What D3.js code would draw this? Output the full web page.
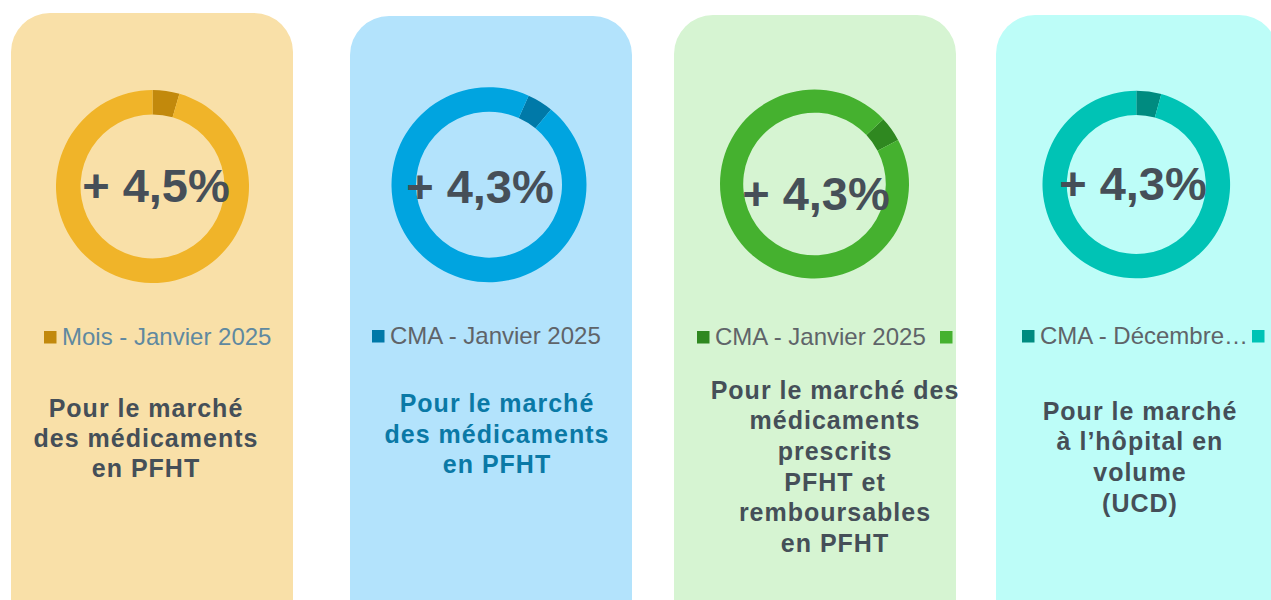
<!DOCTYPE html>
<html>
<head>
<meta charset="utf-8">
<script src="https://cdn.jsdelivr.net/npm/d3@7"></script>
<style>
  body { margin: 0; background: #fff; }
  svg { display: block; font-family: "Liberation Sans", Arial, sans-serif; }
</style>
</head>
<body>
<div id="chart"></div>
<script>
// growth values shown in each donut (percent)
var growth = [4.5, 4.3, 4.3, 4.3];
var growthLabels = ["+ 4,5%", "+ 4,3%", "+ 4,3%", "+ 4,3%"];
var legendLabels = ["Mois - Janvier 2025", "CMA - Janvier 2025", "CMA - Janvier 2025", "CMA - Décembre…"];
var descriptions = [
  ["Pour le marché", "des médicaments", "en PFHT"],
  ["Pour le marché", "des médicaments", "en PFHT"],
  ["Pour le marché des", "médicaments", "prescrits", "PFHT et", "remboursables", "en PFHT"],
  ["Pour le marché", "à l’hôpital en", "volume", "(UCD)"]
];

// layout + colours for each card (not data)
var cards = [
  { x: 11,  top: 13, bg: "#f9e0a8", ring: "#f0b429", dark: "#c2890c", cx: 152.5, cy: 186.5, ro: 96.5, ri: 72,
    rot: 0,    tx: 156,  ty: 202, lx: 44,   ly: 331, lcol: "#5f89a0", second: false,
    dx: 146, dy: 417, dcol: "#454f58", lh: 30 },
  { x: 350, top: 16, bg: "#b3e3fc", ring: "#00a4e0", dark: "#0079a8", cx: 489, cy: 184.7, ro: 97.5, ri: 73,
    rot: 24,   tx: 480,  ty: 203, lx: 372,  ly: 330, lcol: "#5f6469", second: false,
    dx: 497, dy: 412, dcol: "#0a79a6", lh: 30.5 },
  { x: 674, top: 15, bg: "#d6f4d2", ring: "#45b12f", dark: "#2f8820", cx: 814.5, cy: 184, ro: 94.5, ri: 71.3,
    rot: 46.7, tx: 816,  ty: 210, lx: 697,  ly: 331, lcol: "#5f6469", second: 940,
    dx: 835, dy: 398.5, dcol: "#454f58", lh: 30.7 },
  { x: 996, top: 15, bg: "#bdfdf8", ring: "#00c3b5", dark: "#008b80", cx: 1136.3, cy: 184.5, ro: 93.8, ri: 69.5,
    rot: 0,    tx: 1133, ty: 200, lx: 1022, ly: 330, lcol: "#5f6469", second: 1252,
    dx: 1140, dy: 419.5, dcol: "#454f58", lh: 30.7 }
];

var W = 1271, H = 600, cardW = 282, rad = 39;

var svg = d3.select("#chart").append("svg")
  .attr("width", W)
  .attr("height", H);

var pie = d3.pie().sort(null).value(function (d) { return d; });

cards.forEach(function (c, i) {
  var g = svg.append("g");

  // card with rounded top corners, running off the bottom
  var p = d3.path();
  p.moveTo(c.x, H);
  p.lineTo(c.x, c.top + rad);
  p.arcTo(c.x, c.top, c.x + rad, c.top, rad);
  p.lineTo(c.x + cardW - rad, c.top);
  p.arcTo(c.x + cardW, c.top, c.x + cardW, c.top + rad, rad);
  p.lineTo(c.x + cardW, H);
  p.closePath();
  g.append("path").attr("d", p.toString()).attr("fill", c.bg);

  // donut: dark slice = growth, light = remainder
  var a0 = c.rot * Math.PI / 180;
  var slices = pie.startAngle(a0).endAngle(a0 + 2 * Math.PI)([growth[i], 100 - growth[i]]);
  var arc = d3.arc().innerRadius(c.ri).outerRadius(c.ro);
  g.append("g")
    .attr("transform", "translate(" + c.cx + "," + c.cy + ")")
    .selectAll("path")
    .data(slices)
    .enter()
    .append("path")
    .attr("d", arc)
    .attr("fill", function (d, j) { return j === 0 ? c.dark : c.ring; });

  g.append("text")
    .attr("x", c.tx)
    .attr("y", c.ty)
    .attr("text-anchor", "middle")
    .attr("font-size", 47)
    .attr("font-weight", "bold")
    .attr("fill", "#464f58")
    .text(growthLabels[i]);

  // legend
  g.append("rect")
    .attr("x", c.lx).attr("y", c.ly)
    .attr("width", 12.5).attr("height", 12.5)
    .attr("fill", c.dark);
  g.append("text")
    .attr("x", c.lx + 18)
    .attr("y", c.ly + 13.5)
    .attr("font-size", 24)
    .attr("fill", c.lcol)
    .text(legendLabels[i]);
  if (c.second) {
    g.append("rect")
      .attr("x", c.second).attr("y", c.ly)
      .attr("width", 12.5).attr("height", 12.5)
      .attr("fill", c.ring);
  }

  // description
  var t = g.append("text")
    .attr("text-anchor", "middle")
    .attr("font-size", 25)
    .attr("font-weight", "bold")
    .attr("letter-spacing", 1)
    .attr("fill", c.dcol);
  descriptions[i].forEach(function (line, k) {
    t.append("tspan")
      .attr("x", c.dx)
      .attr("y", c.dy + k * c.lh)
      .text(line);
  });
});
</script>
</body>
</html>
